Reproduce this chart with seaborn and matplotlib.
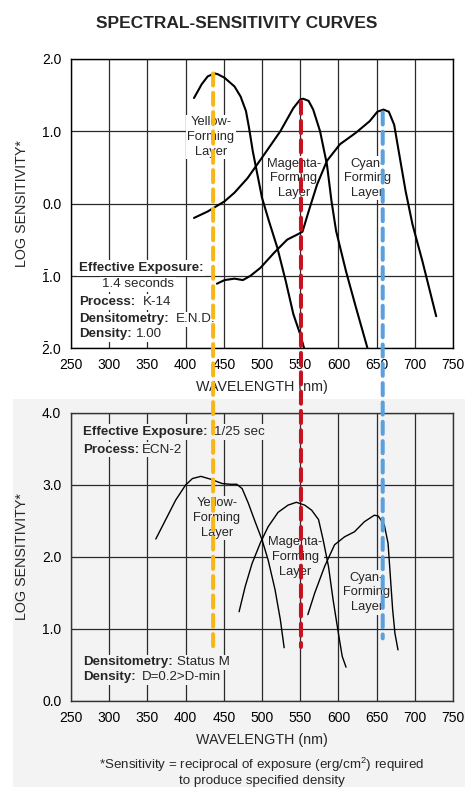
import matplotlib
matplotlib.use('Agg')
import matplotlib.pyplot as plt
from matplotlib.patches import ConnectionPatch, Rectangle
import seaborn as sns

sns.set_style('white')
plt.rcParams['font.family'] = ['Liberation Sans', 'DejaVu Sans']
plt.rcParams['mathtext.fontset'] = 'custom'
plt.rcParams['mathtext.rm'] = 'Liberation Sans'
plt.rcParams['mathtext.bf'] = 'Liberation Sans:bold'
plt.rcParams['mathtext.it'] = 'Liberation Sans:italic'

# axis ticks
wavelength_ticks = [250, 300, 350, 400, 450, 500, 550, 600, 650, 700, 750]
top_ticks = [2, 1, 0, -1, -2]
top_tick_labels = ['2.0', '1.0', '0.0', r'$\bar{1}$.0', r'$\bar{2}$.0']
bottom_ticks = [0, 1, 2, 3, 4]
bottom_tick_labels = ['0.0', '1.0', '2.0', '3.0', '4.0']

# top panel curves (K-14)
top_yellow_wl = [411, 421, 429, 438, 442, 451, 464, 472, 479, 483, 488, 494, 500, 509, 520, 531, 541, 550, 555]
top_yellow_val = [1.46, 1.65, 1.76, 1.80, 1.79, 1.74, 1.62, 1.48, 1.28, 1.05, 0.72, 0.40, 0.08, -0.24, -0.61, -1.07, -1.53, -1.81, -2.0]
top_magenta_wl = [411, 429, 440, 451, 464, 481, 503, 524, 541, 550, 554, 561, 567, 576, 585, 591, 597, 610, 623, 638]
top_magenta_val = [-0.20, -0.11, -0.04, 0.03, 0.15, 0.35, 0.68, 1.0, 1.32, 1.44, 1.45, 1.42, 1.30, 1.0, 0.54, 0.03, -0.38, -0.94, -1.44, -2.0]
top_cyan_wl = [441, 451, 464, 475, 485, 498, 516, 533, 548, 553, 561, 572, 585, 602, 623, 641, 651, 659, 666, 673, 679, 688, 697, 710, 728]
top_cyan_val = [-1.11, -1.06, -1.04, -1.06, -1.0, -0.89, -0.68, -0.50, -0.42, -0.39, -0.11, 0.26, 0.59, 0.82, 0.98, 1.14, 1.27, 1.30, 1.27, 1.09, 0.72, 0.17, -0.29, -0.80, -1.56]

# bottom panel curves (ECN-2)
bot_yellow_wl = [361, 374, 387, 400, 409, 420, 433, 448, 459, 467, 474, 482, 491, 500, 508, 517, 524, 529]
bot_yellow_val = [2.25, 2.52, 2.79, 3.0, 3.09, 3.12, 3.08, 3.02, 3.01, 3.01, 2.95, 2.75, 2.49, 2.24, 1.96, 1.55, 1.13, 0.74]
bot_magenta_wl = [470, 478, 487, 498, 508, 521, 534, 545, 556, 565, 574, 580, 587, 593, 600, 605, 610]
bot_magenta_val = [1.24, 1.59, 1.91, 2.20, 2.42, 2.62, 2.72, 2.76, 2.72, 2.65, 2.52, 2.24, 1.87, 1.41, 0.94, 0.62, 0.47]
bot_cyan_wl = [560, 569, 582, 595, 608, 621, 634, 647, 652, 660, 665, 668, 671, 674, 678]
bot_cyan_val = [1.20, 1.50, 1.87, 2.17, 2.28, 2.35, 2.49, 2.58, 2.57, 2.45, 2.19, 1.73, 1.27, 0.94, 0.71]

# dashed peak markers running through both panels
peak_wl = [436, 551, 658]
peak_top = [1.80, 1.41, 1.26]
peak_bottom = [0.75, 0.75, 0.87]
peak_colors = ['#f7b718', '#c8101e', '#5aa0dc']

GRAY = '#f3f3f3'
FS = 9.6

fig = plt.figure(figsize=(4.65, 7.87), dpi=100)
fig.add_artist(Rectangle((13 / 465, 0), 1, 388 / 787, transform=fig.transFigure,
                         facecolor=GRAY, edgecolor='none', zorder=-5))

ax1 = fig.add_axes([71 / 465, 1 - 348 / 787, 382 / 465, 289 / 787])
ax2 = fig.add_axes([71 / 465, 1 - 701 / 787, 382 / 465, 288 / 787])
ax2.set_facecolor(GRAY)

for wl, val in [(top_yellow_wl, top_yellow_val), (top_magenta_wl, top_magenta_val), (top_cyan_wl, top_cyan_val)]:
    sns.lineplot(x=wl, y=val, ax=ax1, color='black', linewidth=1.5, sort=False, estimator=None)
for wl, val in [(bot_yellow_wl, bot_yellow_val), (bot_magenta_wl, bot_magenta_val), (bot_cyan_wl, bot_cyan_val)]:
    sns.lineplot(x=wl, y=val, ax=ax2, color='black', linewidth=1.0, sort=False, estimator=None)

for ax, ticks, labels, lim, edge in [(ax1, top_ticks, top_tick_labels, (-2, 2), 'black'),
                                     (ax2, bottom_ticks, bottom_tick_labels, (0, 4), '#333333')]:
    ax.set_xlim(250, 750)
    ax.set_ylim(*lim)
    ax.set_xticks(wavelength_ticks)
    ax.set_xticklabels([str(t) for t in wavelength_ticks])
    ax.set_yticks(ticks)
    ax.set_yticklabels(labels)
    ax.tick_params(length=0, pad=7, labelsize=10, colors='black')
    ax.set_axisbelow(True)
    ax.grid(True, color='#2a2a2a', linewidth=0.9)
    for s in ax.spines.values():
        s.set_color(edge)
        s.set_linewidth(1.0)
    ax.set_xlabel('WAVELENGTH (nm)', fontsize=10.3)
    ax.set_ylabel('LOG SENSITIVITY*', fontsize=10.3)
    ax.xaxis.set_label_coords(0.5, -0.11)
    ax.yaxis.set_label_coords(-0.111, 0.5)


def label(ax, x, y, s, fc, size=FS, **kw):
    return ax.text(x, y, s, fontsize=size, zorder=1.5,
                   bbox=dict(boxstyle='square,pad=0.12', fc=fc, ec='none'), **kw)


def pair(ax, x, y, bold, rest, gap, fc):
    t = label(ax, x, y, bold, fc, transform=ax.transAxes, ha='left', va='center', fontweight='bold')
    ax.annotate(rest, xy=(1, 0), xycoords=t, xytext=(gap, 0), textcoords='offset points',
                ha='left', va='bottom', fontsize=FS, zorder=1.5,
                bbox=dict(boxstyle='square,pad=0.12', fc=fc, ec='none'))
    return t


# layer labels
for ax, pos, fc in [(ax1, [(433, 0.92), (541.5, 0.35), (638, 0.35)], 'white'),
                    (ax2, [(441, 2.54), (544, 2.0), (637, 1.51)], GRAY)]:
    for (x, y), name in zip(pos, ['Yellow-', 'Magenta-', 'Cyan-']):
        label(ax, x, y, name + '\nForming\nLayer', fc, size=9.3, ha='center', va='center',
              multialignment='center', linespacing=1.3)

# top panel info block
label(ax1, 0.021, 0.277, 'Effective Exposure:', 'white', transform=ax1.transAxes,
      ha='left', va='center', fontweight='bold')
label(ax1, 0.081, 0.221, '1.4 seconds', 'white', transform=ax1.transAxes, ha='left', va='center')
pair(ax1, 0.021, 0.159, 'Process:', 'K-14', 5.5, 'white')
pair(ax1, 0.021, 0.100, 'Densitometry:', 'E.N.D.', 5, 'white')
pair(ax1, 0.021, 0.048, 'Density:', '1.00', 3, 'white')

# bottom panel info block
pair(ax2, 0.032, 0.934, 'Effective Exposure:', '1/25 sec', 4.5, GRAY)
pair(ax2, 0.032, 0.872, 'Process:', 'ECN-2', 2, GRAY)
pair(ax2, 0.032, 0.135, 'Densitometry:', 'Status M', 3, GRAY)
pair(ax2, 0.032, 0.083, 'Density:', 'D=0.2>D-min', 4, GRAY)

for wl, y0, y1, c in zip(peak_wl, peak_top, peak_bottom, peak_colors):
    con = ConnectionPatch(xyA=(wl, y0), coordsA=ax1.transData, xyB=(wl, y1), coordsB=ax2.transData,
                          color=c, linewidth=2.9, linestyle=(0, (3, 1.8)), zorder=10)
    fig.add_artist(con)

fig.text(237 / 465, 1 - 23 / 787, 'SPECTRAL-SENSITIVITY CURVES', ha='center', va='center',
         fontsize=12.5, fontweight='bold')
fig.text(262 / 465, 1 - 765 / 787, '*Sensitivity = reciprocal of exposure (erg/cm$^2$) required',
         ha='center', va='center', fontsize=9.6)
fig.text(262 / 465, 1 - 781 / 787, 'to produce specified density', ha='center', va='center', fontsize=9.6)

fig.savefig('out.png', dpi=100)
